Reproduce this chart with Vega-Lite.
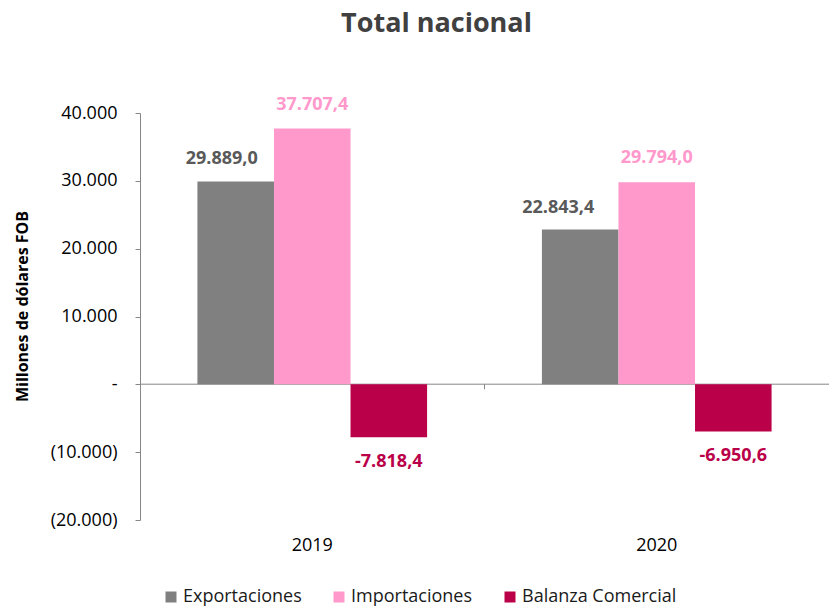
{
  "$schema": "https://vega.github.io/schema/vega-lite/v6.json",
  "autosize": "none",
  "width": 689,
  "height": 407,
  "padding": {"left": 140, "top": 113, "right": 0, "bottom": 87},
  "background": "white",
  "title": {"text": "Total nacional", "font": "Open Sans", "fontSize": 27, "fontWeight": "bold", "color": "#404040", "anchor": "middle", "dx": -48, "offset": 58},
  "data": {"values": [
    {"anio": "2019", "serie": "Exportaciones", "valor": 29889.0},
    {"anio": "2019", "serie": "Importaciones", "valor": 37707.4},
    {"anio": "2019", "serie": "Balanza Comercial", "valor": -7818.4},
    {"anio": "2020", "serie": "Exportaciones", "valor": 22843.4},
    {"anio": "2020", "serie": "Importaciones", "valor": 29794.0},
    {"anio": "2020", "serie": "Balanza Comercial", "valor": -6950.6}
  ]},
  "encoding": {
    "x": {"field": "anio", "type": "nominal", "title": null,
      "scale": {"paddingInner": 0.33333, "paddingOuter": 0.16667},
      "axis": {"orient": "bottom", "offset": -136.3, "bandPosition": -0.25, "domainColor": "#868686", "tickColor": "#868686", "tickSize": 5, "labelPadding": 148, "labelAngle": 0, "labelFont": "Open Sans", "labelFontSize": 18, "labelColor": "#000000"}},
    "xOffset": {"field": "serie", "type": "nominal", "sort": ["Exportaciones", "Importaciones", "Balanza Comercial"], "scale": {"paddingInner": 0, "paddingOuter": 0}},
    "y": {"field": "valor", "type": "quantitative", "title": "Millones de dólares FOB",
      "scale": {"domain": [-20000, 40000], "nice": false, "zero": false},
      "axis": {"values": [-20000, -10000, 0, 10000, 20000, 30000, 40000], "grid": false, "domainColor": "#868686", "tickColor": "#868686", "tickSize": 5, "labelPadding": 18, "labelFont": "Open Sans", "labelFontSize": 18, "labelColor": "#000000",
        "labelExpr": "datum.value == 0 ? '-' : (datum.value < 0 ? '(' + format(-datum.value, ',') + ')' : format(datum.value, ','))",
        "titleFont": "Open Sans", "titleFontSize": 16, "titleFontWeight": "bold", "titleColor": "#000000", "titlePadding": 20, "titleY": 193}}
  },
  "layer": [
    {"mark": {"type": "bar"},
      "encoding": {
        "color": {"field": "serie", "type": "nominal", "sort": ["Exportaciones", "Importaciones", "Balanza Comercial"],
          "scale": {"domain": ["Exportaciones", "Importaciones", "Balanza Comercial"], "range": ["#808080", "#FF99CC", "#BA0049"]},
          "legend": {"title": null, "orient": "none", "direction": "horizontal", "legendX": 22, "legendY": 475, "symbolType": "square", "symbolSize": 121, "symbolStrokeWidth": 0, "labelFont": "Open Sans", "labelFontSize": 18, "labelColor": "#1a1a1a", "columnPadding": 28, "labelOffset": 3}}
      }},
    {"transform": [{"filter": "datum.serie == 'Exportaciones' && datum.anio == '2019'"}],
      "mark": {"type": "text", "font": "Open Sans", "fontSize": 18, "fontWeight": "bold", "color": "#595959", "baseline": "middle", "dx": -14, "dy": -23},
      "encoding": {"text": {"field": "valor", "type": "quantitative", "format": ",.1f"}}},
    {"transform": [{"filter": "datum.serie == 'Exportaciones' && datum.anio == '2020'"}],
      "mark": {"type": "text", "font": "Open Sans", "fontSize": 18, "fontWeight": "bold", "color": "#595959", "baseline": "middle", "dx": -22, "dy": -21},
      "encoding": {"text": {"field": "valor", "type": "quantitative", "format": ",.1f"}}},
    {"transform": [{"filter": "datum.serie == 'Importaciones'"}],
      "mark": {"type": "text", "font": "Open Sans", "fontSize": 18, "fontWeight": "bold", "color": "#FF99CC", "baseline": "middle", "dy": -24},
      "encoding": {"text": {"field": "valor", "type": "quantitative", "format": ",.1f"}}},
    {"transform": [{"filter": "datum.serie == 'Balanza Comercial'"}],
      "mark": {"type": "text", "font": "Open Sans", "fontSize": 18, "fontWeight": "bold", "color": "#BA0049", "baseline": "middle", "dy": 25},
      "encoding": {"text": {"field": "valor", "type": "quantitative", "format": ",.1f"}}}
  ],
  "config": {
    "view": {"stroke": null},
    "locale": {"number": {"decimal": ",", "thousands": ".", "grouping": [3], "currency": ["", ""], "minus": "-"}}
  }
}
